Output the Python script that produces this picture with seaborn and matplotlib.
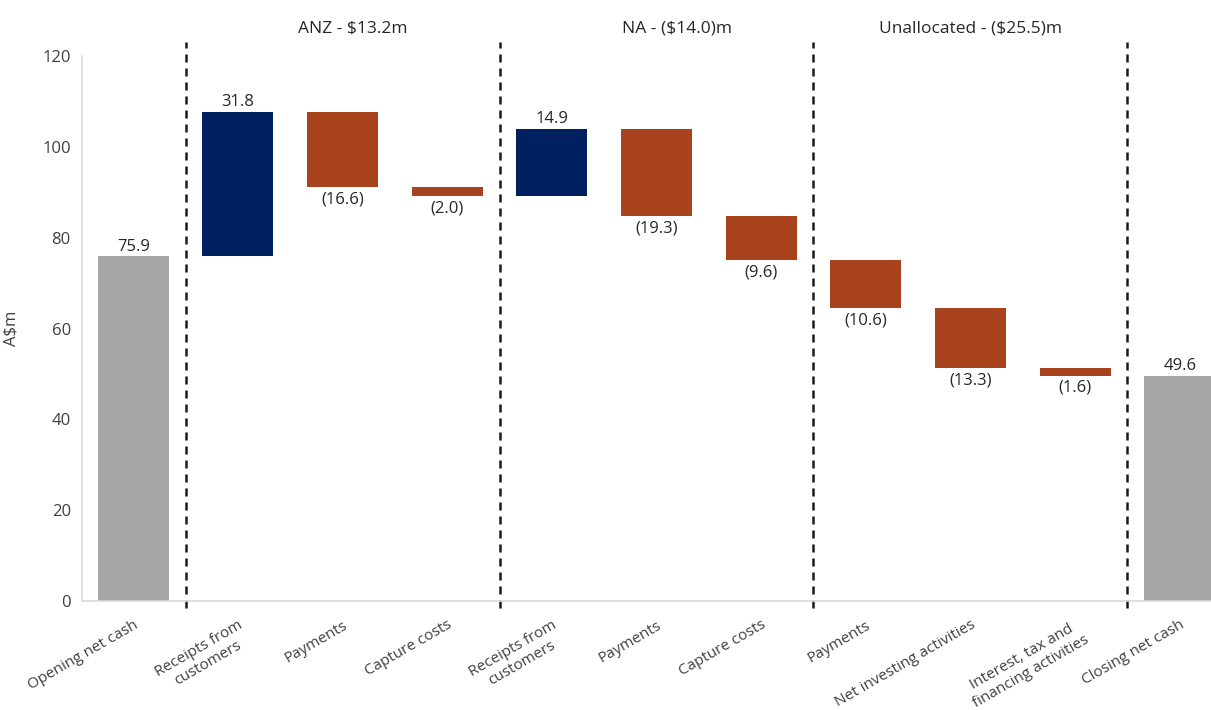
import numpy as np
import matplotlib
matplotlib.use("Agg")
import matplotlib.pyplot as plt
import matplotlib.transforms as mtransforms
import seaborn as sns

# Cash-flow bridge, A$m
categories = [
    "Opening net cash", "Receipts from\ncustomers", "Payments", "Capture costs",
    "Receipts from\ncustomers", "Payments", "Capture costs",
    "Payments", "Net investing activities", "Interest, tax and\nfinancing activities",
    "Closing net cash",
]
values = [75.9, 31.8, -16.6, -2.0, 14.9, -19.3, -9.6, -10.6, -13.3, -1.6, 49.6]
kinds = ["total", "delta", "delta", "delta", "delta", "delta", "delta",
         "delta", "delta", "delta", "total"]
segment_titles = ["ANZ - $13.2m", "NA - ($14.0)m", "Unallocated - ($25.5)m"]
segment_title_x = [2.1, 5.2, 8.0]
divider_x = [0.5, 3.5, 6.5, 9.5]
yticks = [0, 20, 40, 60, 80, 100, 120]

GREY = "#A6A6A6"
NAVY = "#002060"
RUST = "#A9431E"
TEXT = "#404040"

# Compute floating bar bottoms and heights for the waterfall
bottoms, heights, colors = [], [], []
running = 0.0
for v, k in zip(values, kinds):
    if k == "total":
        bottoms.append(0.0)
        heights.append(v)
        colors.append(GREY)
        running = v
    else:
        if v >= 0:
            bottoms.append(running)
            colors.append(NAVY)
        else:
            bottoms.append(running + v)
            colors.append(RUST)
        heights.append(abs(v))
        running += v

sns.set_theme(style="white")
plt.rcParams["font.family"] = ["Open Sans", "DejaVu Sans"]

fig = plt.figure(figsize=(12.11, 7.10), dpi=100)
ax = fig.add_axes([0.0677, 0.1535, 0.935, 0.7676])

idx = np.arange(len(values))
sns.barplot(x=idx, y=heights, ax=ax, width=0.68, color=GREY,
            saturation=1, linewidth=0, errorbar=None)

for p, b, c in zip(ax.patches, bottoms, colors):
    p.set_y(b)
    p.set_facecolor(c)
    p.set_edgecolor("none")

ax.set_ylim(0, 120)
ax.set_xlim(-0.49, 10.33)
ax.set_yticks(yticks)
ax.set_yticklabels([str(t) for t in yticks], fontsize=12, color=TEXT)
ax.set_xticks(idx)
ax.set_xticklabels(categories, rotation=30, ha="right", rotation_mode="anchor",
                   fontsize=11, color=TEXT, multialignment="center")
ax.tick_params(axis="both", length=0)
ax.tick_params(axis="y", pad=8)
ax.tick_params(axis="x", pad=12)
ax.set_ylabel("A$m", fontsize=12, color=TEXT)
ax.yaxis.set_label_coords(-0.055, 0.5)

for side in ["top", "right"]:
    ax.spines[side].set_visible(False)
for side in ["left", "bottom"]:
    ax.spines[side].set_color("#D9D9D9")
    ax.spines[side].set_linewidth(1.2)

# Value labels
for i, (v, k, b, h) in enumerate(zip(values, kinds, bottoms, heights)):
    if v >= 0:
        ax.annotate(f"{v:.1f}", (i, b + h), xytext=(0, 1), textcoords="offset points",
                    ha="center", va="bottom", fontsize=12, color="#262626")
    else:
        ax.annotate(f"({abs(v):.1f})", (i, b), xytext=(0, -3), textcoords="offset points",
                    ha="center", va="top", fontsize=12, color="#262626")

# Segment dividers and titles
trans = mtransforms.blended_transform_factory(ax.transData, ax.transAxes)
for dx in divider_x:
    ax.plot([dx, dx], [-0.012, 1.026], transform=trans, clip_on=False,
            color="#1a1a1a", lw=1.8, dashes=(3.2, 2.4))
for tx, title in zip(segment_title_x, segment_titles):
    ax.text(tx, 1.051, title, transform=trans, ha="center", va="center",
            fontsize=12.5, color="#262626")

fig.savefig("out.png", dpi=100)
